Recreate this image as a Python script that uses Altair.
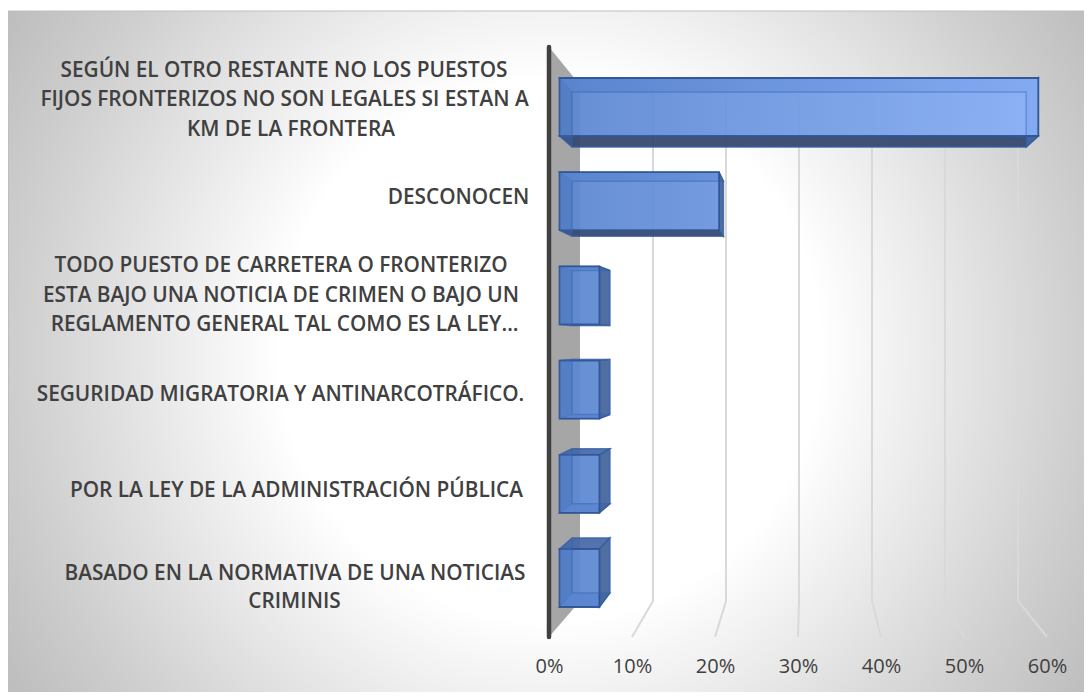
import altair as alt
import pandas as pd

CATEGORIES = [
    "SEGÚN EL OTRO RESTANTE NO LOS PUESTOS\nFIJOS FRONTERIZOS NO SON LEGALES SI ESTAN A\nKM DE LA FRONTERA",
    "DESCONOCEN",
    "TODO PUESTO DE CARRETERA O FRONTERIZO\nESTA BAJO UNA NOTICIA DE CRIMEN O BAJO UN\nREGLAMENTO GENERAL TAL COMO ES LA LEY…",
    "SEGURIDAD MIGRATORIA Y ANTINARCOTRÁFICO.",
    "POR LA LEY DE LA ADMINISTRACIÓN PÚBLICA",
    "BASADO EN LA NORMATIVA DE UNA NOTICIAS\nCRIMINIS",
]
VALUES = [60, 20, 5, 5, 5, 5]
TICKS = [0, 10, 20, 30, 40, 50, 60]

W, H = 1076, 684
OX, OY = 8, 8


# projection of the 3-D box chart into the picture plane
def xn(v):
    return 559.5 + 7.98 * v - OX


def xf(v):
    return 572 + 7.57 * v - OX


def yn(row, lower=False):
    return 78 + 94.2 * row + (58 if lower else 0) - OY


def yf(row, lower=False):
    return 92 + 89.2 * row + (55 if lower else 0) - OY


x_scale = alt.Scale(domain=[0, 60], range=[549 - OX, 1047 - OX], nice=False, zero=False)
y_scale = alt.Scale(domain=[0, H], range=[0, H], nice=False, zero=False)


def pct(px):
    return (px - (549 - OX)) / (498 / 60)


VALUE_AXIS = alt.Axis(
    values=TICKS, labelExpr="datum.value + '%'", title=None, domain=False,
    ticks=False, grid=False, labelFont="Open Sans", labelFontSize=20,
    labelColor="#404040", labelPadding=0, offset=-36, zindex=1,
    labelFlush=False, labelOverlap=False,
)
X = alt.X("x:Q", scale=x_scale, axis=VALUE_AXIS)
Y = alt.Y("y:Q", scale=y_scale, axis=None)
Y2 = alt.Y2("y2:Q")

layers = []

# background: a square so that the radial gradient stays circular; the page clips it
CX, CY, R = 550 - OX, 350 - OY, 700
bg = pd.DataFrame({"x": [pct(CX - R)], "x2": [pct(CX + R)], "y": [CY - R], "y2": [CY + R]})
layers.append(
    alt.Chart(bg)
    .mark_rect(
        color=alt.Gradient(
            gradient="radial",
            x1=0.5, y1=0.5, r1=0.0,
            x2=0.5, y2=0.5, r2=0.5,
            stops=[
                alt.GradientStop(offset=0.0, color="#ffffff"),
                alt.GradientStop(offset=0.386, color="#ffffff"),
                alt.GradientStop(offset=0.757, color="#cfcfcf"),
                alt.GradientStop(offset=0.914, color="#bdbdbd"),
                alt.GradientStop(offset=1.0, color="#b4b4b4"),
            ],
        ),
    )
    .encode(x=X, x2="x2:Q", y=Y, y2=Y2)
)
# white strip above the chart and its thin border
layers.append(
    alt.Chart(pd.DataFrame({"x": [pct(0)], "x2": [pct(W)], "y": [0], "y2": [3]}))
    .mark_rect(color="#ffffff")
    .encode(x=X, x2="x2:Q", y=Y, y2=Y2)
)
layers.append(
    alt.Chart(pd.DataFrame({"x": [pct(0), pct(W)], "y": [3, 3]}))
    .mark_line(color="#bfbfbf", strokeWidth=1)
    .encode(x=X, y=Y)
)
layers.append(
    alt.Chart(pd.DataFrame({"x": [pct(0.5), pct(0.5)], "y": [3, H]}))
    .mark_line(color="#bfbfbf", strokeWidth=1)
    .encode(x=X, y=Y)
)

# side wall
wall = pd.DataFrame({
    "x": [0, pct(580 - OX)],
    "y": [47 - OY, 85 - OY],
    "y2": [637 - OY, 601 - OY],
})
layers.append(alt.Chart(wall).mark_area(color="#a6a6a6", orient="vertical").encode(x=X, y=Y, y2=Y2))

# gridlines on the back wall and floor
grid_rows = []
for t in TICKS[1:]:
    back = pct(580 + 7.3 * t - OX)
    grid_rows += [
        {"t": t, "o": 0, "x": back, "y": 85 - OY},
        {"t": t, "o": 1, "x": back, "y": 601 - OY},
        {"t": t, "o": 2, "x": t, "y": 637 - OY},
    ]
layers.append(
    alt.Chart(pd.DataFrame(grid_rows))
    .mark_line(color="#d9d9d9", strokeWidth=2)
    .encode(x=X, y=Y, detail="t:N", order="o:Q")
)

# axis line
layers.append(
    alt.Chart(pd.DataFrame({"x": [0, 0], "y": [47 - OY, 637 - OY]}))
    .mark_line(color="#404040", strokeWidth=4.5, strokeCap="round")
    .encode(x=X, y=Y)
)

EDGE = "#2f5597"


def face(points, fill, opacity, sw=1.5, s_op=0.7):
    """A convex quadrilateral drawn as an area between its upper and lower edges."""
    xs = sorted({p[0] for p in points})
    rows = []
    n = len(points)
    for x in xs:
        hits = []
        for i in range(n):
            (x0, y0), (x1, y1) = points[i], points[(i + 1) % n]
            if min(x0, x1) <= x <= max(x0, x1):
                if x0 == x1:
                    hits += [y0, y1]
                else:
                    hits.append(y0 + (y1 - y0) * (x - x0) / (x1 - x0))
        rows.append({"x": pct(x), "y": min(hits), "y2": max(hits)})
    return (
        alt.Chart(pd.DataFrame(rows))
        .mark_area(color=fill, opacity=opacity, orient="vertical", stroke=EDGE,
                   strokeWidth=sw, strokeOpacity=s_op)
        .encode(x=X, y=Y, y2=Y2)
    )


for row, v in enumerate(VALUES):
    nl, nr = xn(0), xn(v)
    fl, fr = xf(0), xf(v)
    nt, nb = yn(row), yn(row, True)
    ft, fb = yf(row), yf(row, True)

    layers.append(face([(nl, nt), (fl, ft), (fr, ft), (nr, nt)], "#4468a8", 0.92))
    layers.append(face([(nl, nb), (fl, fb), (fr, fb), (nr, nb)],
                       "#36496f" if fb > nb else "#4a74bd", 0.95))
    layers.append(face([(nr, nt), (fr, ft), (fr, fb), (nr, nb)], "#46689f", 0.95))

    end = (int(0x5b + (0x88 - 0x5b) * v / 60), int(0x86 + (0xb0 - 0x86) * v / 60),
           int(0xd0 + (0xf8 - 0xd0) * v / 60))
    layers.append(
        alt.Chart(pd.DataFrame({"x": [pct(nl)], "x2": [pct(nr)], "y": [nt], "y2": [nb]}))
        .mark_rect(
            opacity=0.93,
            stroke=EDGE,
            strokeWidth=1.8,
            color=alt.Gradient(
                gradient="linear", x1=0, y1=0.5, x2=1, y2=0.5,
                stops=[alt.GradientStop(offset=0, color="#5b86d0"),
                       alt.GradientStop(offset=1, color="#%02x%02x%02x" % end)],
            ),
        )
        .encode(x=X, x2="x2:Q", y=Y, y2=Y2)
    )
    layers.append(face([(nl, nt), (fl, ft), (fl, fb), (nl, nb)], "#3f6cb8", 0.35, sw=1, s_op=0.35))
    layers.append(
        alt.Chart(pd.DataFrame({"x": [pct(fl)], "x2": [pct(fr)], "y": [ft], "y2": [fb]}))
        .mark_rect(fillOpacity=0, stroke="#3565b5", strokeWidth=1.5, strokeOpacity=0.4)
        .encode(x=X, x2="x2:Q", y=Y, y2=Y2)
    )

# category labels, one text mark per line
LINE_XS = [[284, 284.5, 291], [458.5], [281, 281, 284.5], [280.5], [296.5], [295, 294.5]]
LINE_YS = [[70.5, 100, 129.5], [198], [266, 296, 325], [395], [491], [574, 602]]
for label, xs, ys in zip(CATEGORIES, LINE_XS, LINE_YS):
    for line, lx, ly in zip(label.split("\n"), xs, ys):
        layers.append(
            alt.Chart(pd.DataFrame({"t": [line], "x": [pct(lx - OX)], "y": [ly - OY]}))
            .mark_text(font="Open Sans", fontSize=20.8, fontWeight=600, color="#404040",
                       align="center", baseline="middle")
            .encode(x=X, y=Y, text="t:N")
        )

chart = (
    alt.layer(*layers)
    .properties(width=W, height=H, padding=0, autosize=alt.AutoSizeParams(type="none"), background="white")
    .configure_view(stroke=None)
)
chart.save("out.html", embed_options={"renderer": "svg", "actions": False})
